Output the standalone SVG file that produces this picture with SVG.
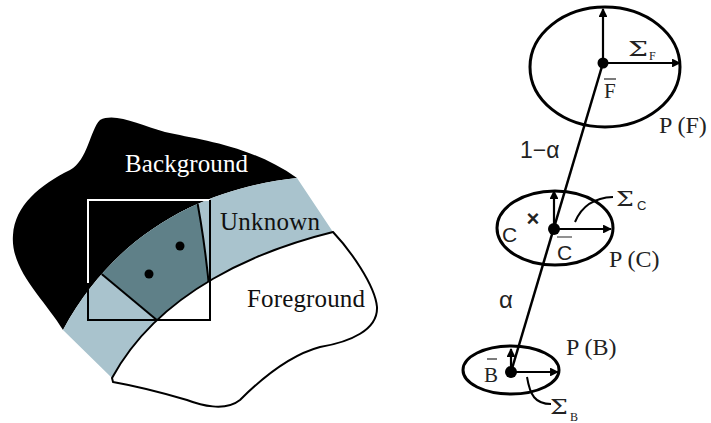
<svg xmlns="http://www.w3.org/2000/svg" width="711" height="423" viewBox="0 0 711 423">
<style>
.lbl{font-family:"Liberation Serif","Times New Roman",serif;font-size:25px}
.ser{font-family:"Liberation Serif","Times New Roman",serif;fill:#222}
.san{font-family:"Liberation Sans",Arial,sans-serif;fill:#222}
.sig{font-family:"DejaVu Serif",serif;fill:#222;font-size:21px}
.ell{fill:none;stroke:#000;stroke-width:3}
.arr{stroke:#000;stroke-width:2.2;fill:none;marker-end:url(#ah)}
.lead{stroke:#000;stroke-width:2;fill:none}
</style>
<defs>
<marker id="ah" viewBox="0 0 10 10" refX="9" refY="5" markerWidth="4.5" markerHeight="4" orient="auto" markerUnits="strokeWidth">
<path d="M0,0 L10,5 L0,10 Z" fill="#000"/>
</marker>
<clipPath id="band">
<path d="M63,330 C125,215 230,185 297,178 L333,232 C260,250 160,290 112,378 Z"/>
</clipPath>
</defs>
<rect width="711" height="423" fill="#fff"/>

<g id="background">
<path d="M63,330 C45,300 10,270 13,235 C15,205 40,185 70,170 C88,160 90,130 100,120 C115,112 140,125 165,132 C200,140 250,145 297,178 C230,185 125,215 63,330 Z" fill="#000"/>
<text class="lbl" x="125" y="172" fill="#fff" textLength="123">Background</text>
</g>

<g id="unknown">
<path d="M63,330 C125,215 230,185 297,178 L333,232 C260,250 160,290 112,378 Z" fill="#a9c3cd"/>
<g clip-path="url(#band)">
<path d="M80,256 L195,190 Q205,240 210,297 L170,331 Z" fill="#5f8088"/>
<path d="M80,256 L170,331" stroke="#000" stroke-width="2" fill="none"/>
<path d="M195,190 Q205,240 210,297" stroke="#000" stroke-width="2" fill="none"/>
</g>
<circle cx="180" cy="246" r="4.5" fill="#000"/>
<circle cx="149" cy="274" r="4.5" fill="#000"/>
<text class="lbl" x="220" y="230" fill="#111" textLength="100">Unknown</text>
</g>

<g id="foreground">
<path d="M112,378 C160,290 260,250 333,232 C350,250 375,285 377,307 C378,330 350,342 320,347 C290,355 260,380 240,400 C225,412 200,405 187,400 C160,392 130,385 113,382 Z" fill="#fff" stroke="#000" stroke-width="2"/>
<text class="lbl" x="247" y="307" fill="#111" textLength="118">Foreground</text>
</g>

<g id="window">
<path d="M88,283 L88,200 L210,200" stroke="#fff" stroke-width="2" fill="none"/>
<path d="M210,200 L210,320 L88,320 L88,283" stroke="#000" stroke-width="2" fill="none"/>
</g>

<g id="connectors">
<line x1="603" y1="63" x2="511" y2="372" stroke="#000" stroke-width="2.5"/>
<path class="lead" d="M575,222 Q585,198 613,197"/>
<path class="lead" d="M527,377 C530,395 535,404 551,404"/>
</g>

<g id="nodeF">
<ellipse class="ell" cx="605" cy="67" rx="75" ry="60"/>
<line class="arr" x1="603" y1="63" x2="603" y2="9"/>
<line class="arr" x1="603" y1="63" x2="680" y2="63"/>
<circle cx="603" cy="63" r="5.5" fill="#000"/>
<text class="sig" transform="translate(628,56) scale(1.35,1)">Σ</text>
<text class="ser" x="649" y="60" font-size="12">F</text>
<text class="ser" x="604" y="98" font-size="21">F</text>
<line x1="604" y1="79" x2="616" y2="79" stroke="#333" stroke-width="1.3"/>
<text class="ser" x="659" y="133" font-size="24">P (F)</text>
</g>

<g id="alphaLabels">
<text class="san" x="520" y="158" font-size="23">1−α</text>
<text class="san" x="499" y="308" font-size="24">α</text>
</g>

<g id="nodeC">
<ellipse class="ell" cx="555" cy="228" rx="58" ry="37"/>
<line class="arr" x1="554" y1="229" x2="554" y2="191"/>
<line class="arr" x1="554" y1="229" x2="611" y2="229"/>
<circle cx="554" cy="229" r="6" fill="#000"/>
<text class="san" x="533" y="226" font-size="22" font-weight="bold" text-anchor="middle" fill="#000">×</text>
<text class="san" x="502" y="242" font-size="21" fill="#555">C</text>
<text class="san" x="557" y="260" font-size="21" fill="#555">C</text>
<line x1="557" y1="237" x2="572" y2="237" stroke="#555" stroke-width="1.3"/>
<text class="sig" transform="translate(616,206) scale(1.2,1)">Σ</text>
<text class="san" x="637" y="210" font-size="13" fill="#555">C</text>
<text class="ser" x="609" y="267" font-size="24">P (C)</text>
</g>

<g id="nodeB">
<ellipse class="ell" cx="511" cy="370" rx="48" ry="24"/>
<line class="arr" x1="511" y1="372" x2="511" y2="349"/>
<line class="arr" x1="511" y1="372" x2="558" y2="372"/>
<circle cx="511" cy="372" r="6" fill="#000"/>
<text class="ser" x="484" y="382" font-size="21">B</text>
<line x1="487" y1="359" x2="497" y2="359" stroke="#333" stroke-width="1.3"/>
<text class="sig" transform="translate(550,414) scale(1.2,1)">Σ</text>
<text class="ser" x="570" y="421" font-size="12">B</text>
<text class="ser" x="566" y="355" font-size="24">P (B)</text>
</g>
</svg>
